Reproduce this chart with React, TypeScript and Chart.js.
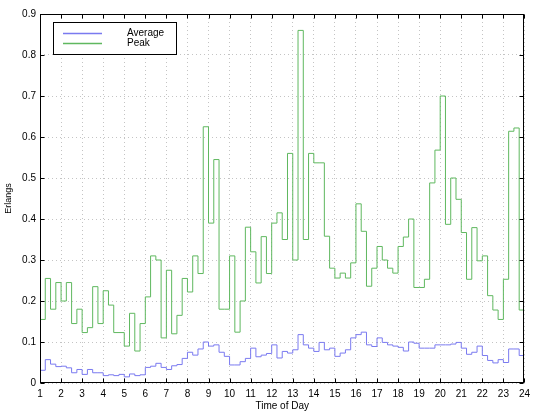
import React, { useEffect, useRef } from 'react';
import { Chart, registerables } from 'chart.js';

Chart.register(...registerables);

// 15-minute bins starting at hour 1
const START_HOUR = 1;
const BIN_HOURS = 0.25;

const seriesLabels = ['Average', 'Peak'];
const seriesColors = ['#7a7af0', '#5fb85f'];

const averageErlangs = [
  0.031, 0.057, 0.046, 0.04,
  0.041, 0.037, 0.025, 0.033,
  0.021, 0.033, 0.025, 0.025,
  0.018, 0.02, 0.018, 0.021,
  0.015, 0.022, 0.018, 0.02,
  0.038, 0.041, 0.048, 0.038,
  0.033, 0.042, 0.045, 0.06,
  0.075, 0.068, 0.083, 0.1,
  0.09, 0.093, 0.075, 0.065,
  0.044, 0.044, 0.052, 0.06,
  0.085, 0.064, 0.068, 0.072,
  0.093, 0.061, 0.077, 0.073,
  0.081, 0.118, 0.093, 0.085,
  0.077, 0.099, 0.081, 0.085,
  0.065, 0.073, 0.081, 0.11,
  0.118, 0.124, 0.093, 0.089,
  0.11, 0.099, 0.093, 0.09,
  0.087, 0.078, 0.1, 0.097,
  0.085, 0.085, 0.085, 0.093,
  0.093, 0.093, 0.095, 0.099,
  0.085, 0.07, 0.075, 0.09,
  0.067, 0.055, 0.049, 0.057,
  0.05, 0.083, 0.083, 0.067,
];

const peakErlangs = [
  0.155, 0.255, 0.18, 0.245,
  0.2, 0.245, 0.145, 0.18,
  0.123, 0.135, 0.235, 0.145,
  0.225, 0.19, 0.123, 0.123,
  0.09, 0.17, 0.078, 0.145,
  0.21, 0.31, 0.3, 0.11,
  0.275, 0.12, 0.165, 0.255,
  0.222, 0.31, 0.267, 0.625,
  0.39, 0.545, 0.18, 0.18,
  0.31, 0.124, 0.2, 0.38,
  0.32, 0.244, 0.357, 0.267,
  0.39, 0.415, 0.35, 0.56,
  0.3, 0.86, 0.35, 0.56,
  0.537, 0.537, 0.358, 0.28,
  0.256, 0.268, 0.256, 0.293,
  0.437, 0.37, 0.236, 0.28,
  0.333, 0.3, 0.28, 0.268,
  0.333, 0.356, 0.4, 0.233,
  0.233, 0.253, 0.488, 0.568,
  0.7, 0.387, 0.5, 0.448,
  0.367, 0.253, 0.379, 0.298,
  0.31, 0.213, 0.178, 0.155,
  0.253, 0.614, 0.622, 0.178,
];

const xTickValues = [1, 2, 3, 4, 5, 6, 7, 8, 9, 10, 11, 12, 13, 14, 15, 16, 17, 18, 19, 20, 21, 22, 23, 24];
const yTickLabels = ['0', '0.1', '0.2', '0.3', '0.4', '0.5', '0.6', '0.7', '0.8', '0.9'];
const yTickValues = [0, 0.1, 0.2, 0.3, 0.4, 0.5, 0.6, 0.7, 0.8, 0.9];

const FONT = '"Liberation Sans", Arial, sans-serif';

function toSteps(values: number[]) {
  const pts = values.map((v, i) => ({ x: START_HOUR + i * BIN_HOURS, y: v }));
  pts.push({ x: START_HOUR + values.length * BIN_HOURS, y: values[values.length - 1] });
  return pts;
}

const matlabFrame = {
  id: 'matlabFrame',
  afterDatasetsDraw(chart: any) {
    const { ctx, chartArea } = chart;
    const { left, right, top, bottom } = chartArea;
    const xs = chart.scales.x;
    const ys = chart.scales.y;
    ctx.save();
    ctx.strokeStyle = '#000';
    ctx.lineWidth = 1;
    const L = Math.round(left) + 0.5;
    const R = Math.round(right) - 0.5;
    const T = Math.round(top) + 0.5;
    const B = Math.round(bottom) - 0.5;
    ctx.strokeRect(L, T, R - L, B - T);
    const tl = 4;
    ctx.beginPath();
    xTickValues.forEach((v) => {
      const px = Math.round(xs.getPixelForValue(v)) + 0.5;
      ctx.moveTo(px, B);
      ctx.lineTo(px, B - tl);
      ctx.moveTo(px, T);
      ctx.lineTo(px, T + tl);
    });
    yTickValues.forEach((v) => {
      const py = Math.round(ys.getPixelForValue(v)) + 0.5;
      ctx.moveTo(L, py);
      ctx.lineTo(L + tl, py);
      ctx.moveTo(R, py);
      ctx.lineTo(R - tl, py);
    });
    ctx.stroke();

    // legend box
    const bx = 53.5, by = 22.5, bw = 123, bh = 32;
    ctx.fillStyle = '#fff';
    ctx.fillRect(bx, by, bw, bh);
    ctx.strokeStyle = '#000';
    ctx.strokeRect(bx, by, bw, bh);
    const rows = [33, 43];
    chart.data.datasets.forEach((ds: any, i: number) => {
      const y = rows[i] + 0.5;
      ctx.strokeStyle = seriesColors[i];
      ctx.lineWidth = 1.5;
      ctx.beginPath();
      ctx.moveTo(63, y);
      ctx.lineTo(102, y);
      ctx.stroke();
      ctx.fillStyle = '#000';
      ctx.font = `10px ${FONT}`;
      ctx.textBaseline = 'middle';
      ctx.textAlign = 'left';
      ctx.fillText(ds.label, 127, rows[i]);
    });
    ctx.restore();
  },
};

export default function App() {
  const ref = useRef<HTMLCanvasElement | null>(null);
  useEffect(() => {
    document.body.style.margin = '0';
    const canvas = ref.current;
    if (!canvas) return;
    const chart = new Chart(canvas, {
      type: 'line',
      data: {
        datasets: [
          {
            label: seriesLabels[0],
            data: toSteps(averageErlangs),
            borderColor: seriesColors[0],
            borderWidth: 1,
            pointRadius: 0,
            stepped: true,
            fill: false,
          },
          {
            label: seriesLabels[1],
            data: toSteps(peakErlangs),
            borderColor: seriesColors[1],
            borderWidth: 1,
            pointRadius: 0,
            stepped: true,
            fill: false,
          },
        ],
      },
      options: {
        animation: false,
        responsive: false,
        layout: { padding: { left: 0, top: 14, right: 6, bottom: 0 } },
        plugins: { legend: { display: false }, tooltip: { enabled: false } },
        scales: {
          x: {
            type: 'linear',
            min: 1,
            max: 24,
            afterBuildTicks: (s: any) => {
              s.ticks = xTickValues.map((v) => ({ value: v }));
            },
            afterFit: (s: any) => {
              s.height = 30;
            },
            ticks: {
              autoSkip: false,
              maxRotation: 0,
              padding: 5,
              color: '#000',
              font: { family: FONT, size: 10 },
              callback: (v: any) => String(v),
            },
            grid: { color: '#c4c4c4', lineWidth: 1, drawTicks: false },
            border: { display: false, dash: [1, 3] },
            title: {
              display: true,
              text: 'Time of Day',
              color: '#000',
              font: { family: FONT, size: 10 },
              padding: { top: 0, bottom: 1 },
            },
          },
          y: {
            min: 0,
            max: 0.9,
            afterBuildTicks: (s: any) => {
              s.ticks = yTickValues.map((v) => ({ value: v }));
            },
            afterFit: (s: any) => {
              s.width = 40;
            },
            ticks: {
              padding: 4,
              color: '#000',
              font: { family: FONT, size: 10 },
              callback: (v: any) => {
                const i = yTickValues.findIndex((t) => Math.abs(t - v) < 1e-6);
                return i >= 0 ? yTickLabels[i] : '';
              },
            },
            grid: { color: '#c4c4c4', lineWidth: 1, drawTicks: false },
            border: { display: false, dash: [1, 3] },
            title: {
              display: true,
              text: 'Erlangs',
              color: '#000',
              font: { family: FONT, size: 9 },
              padding: { top: 3, bottom: 0 },
            },
          },
        },
      },
      plugins: [matlabFrame],
    });
    return () => chart.destroy();
  }, []);
  return (
    <div style={{ width: 535, height: 413 }}>
      <canvas ref={ref} width={535} height={413} />
    </div>
  );
}
